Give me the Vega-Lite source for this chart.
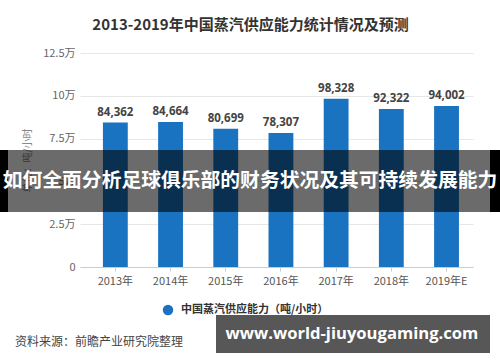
{
  "$schema": "https://vega.github.io/schema/vega-lite/v6.json",
  "autosize": {"type": "none"},
  "width": 393,
  "height": 214,
  "padding": {"left": 80, "top": 53, "right": 27, "bottom": 95},
  "background": "white",
  "title": {
    "text": "2013-2019年中国蒸汽供应能力统计情况及预测",
    "anchor": "middle",
    "frame": "group",
    "dx": -26,
    "offset": 14,
    "font": "Noto Sans CJK SC",
    "fontSize": 15,
    "fontWeight": "bold",
    "color": "#333333"
  },
  "config": {
    "view": {"stroke": null},
    "font": "Noto Sans CJK SC"
  },
  "resolve": {"scale": {"x": "independent"}, "axis": {"x": "independent"}},
  "layer": [
    {
      "data": {
        "values": [
          {"year": "2013年", "value": 84362, "series": "中国蒸汽供应能力（吨/小时）"},
          {"year": "2014年", "value": 84664, "series": "中国蒸汽供应能力（吨/小时）"},
          {"year": "2015年", "value": 80699, "series": "中国蒸汽供应能力（吨/小时）"},
          {"year": "2016年", "value": 78307, "series": "中国蒸汽供应能力（吨/小时）"},
          {"year": "2017年", "value": 98328, "series": "中国蒸汽供应能力（吨/小时）"},
          {"year": "2018年", "value": 92322, "series": "中国蒸汽供应能力（吨/小时）"},
          {"year": "2019年E", "value": 94002, "series": "中国蒸汽供应能力（吨/小时）"}
        ]
      },
      "encoding": {
        "x": {
          "field": "year",
          "type": "nominal",
          "sort": null,
          "scale": {"paddingInner": 0.55, "paddingOuter": 0.335, "align": 0.62},
          "axis": {
            "title": null,
            "labelAngle": 0,
            "labelFontSize": 11,
            "labelColor": "#555555",
            "labelPadding": 4,
            "ticks": true,
            "tickSize": 4,
            "tickColor": "#cccccc",
            "domainColor": "#cccccc",
            "grid": false
          }
        },
        "y": {
          "field": "value",
          "type": "quantitative",
          "scale": {"domain": [0, 125000], "nice": false},
          "axis": {
            "title": "单位：吨/小时",
            "titleFontSize": 10,
            "titleFontWeight": "normal",
            "titleColor": "#888888",
            "titlePadding": 10,
            "values": [0, 25000, 50000, 75000, 100000, 125000],
            "labelExpr": "datum.value == 0 ? '0' : (datum.value / 10000) + '万'",
            "labelFontSize": 11,
            "labelColor": "#666666",
            "labelPadding": 5,
            "ticks": false,
            "tickSize": 0,
            "domain": false,
            "gridColor": "#e6e6e6"
          }
        }
      },
      "layer": [
        {
          "mark": {"type": "bar", "color": "#1a73c0"},
          "encoding": {
            "color": {
              "field": "series",
              "type": "nominal",
              "scale": {"range": ["#1a73c0"]},
              "legend": {
                "title": null,
                "orient": "none",
                "legendX": 82,
                "legendY": 251,
                "symbolType": "circle",
                "symbolSize": 110,
                "labelOffset": 7,
                "labelFontSize": 11,
                "labelFontWeight": "bold",
                "labelColor": "#333333",
                "zindex": 0
              }
            }
          }
        },
        {
          "mark": {"type": "text", "baseline": "middle", "dy": -10, "fontSize": 11.5, "fontWeight": "bold", "color": "#444444", "font": "Open Sans"},
          "encoding": {
            "text": {"field": "value", "type": "quantitative", "format": ","}
          }
        }
      ]
    },
    {
      "data": {
        "values": [
          {"kind": "banner", "x0": 0.016, "x1": 0.98, "y0": 68341, "y1": 32126},
          {"kind": "edge", "x0": 0, "x1": 0.016, "y0": 68341, "y1": 32126},
          {"kind": "edge", "x0": 0.98, "x1": 1, "y0": 68341, "y1": 32126},
          {"kind": "url", "x0": 0.432, "x1": 0.98, "y0": -28037, "y1": -50234}
        ]
      },
      "layer": [
        {
          "transform": [{"filter": "datum.kind == 'banner'"}],
          "mark": {"type": "rect", "color": "#000000", "opacity": 0.58, "clip": false},
          "encoding": {
            "x": {"field": "x0", "type": "quantitative", "scale": {"domain": [0, 1], "range": [-80, 420], "nice": false, "zero": false}, "axis": null},
            "x2": {"field": "x1"},
            "y": {"field": "y0", "type": "quantitative"},
            "y2": {"field": "y1"}
          }
        },
        {
          "transform": [{"filter": "datum.kind == 'edge'"}],
          "mark": {"type": "rect", "color": "#000000", "opacity": 1, "clip": false},
          "encoding": {
            "x": {"field": "x0", "type": "quantitative", "axis": null},
            "x2": {"field": "x1"},
            "y": {"field": "y0", "type": "quantitative"},
            "y2": {"field": "y1"}
          }
        },
        {
          "transform": [{"filter": "datum.kind == 'url'"}],
          "mark": {"type": "rect", "color": "#575757", "opacity": 1, "clip": false},
          "encoding": {
            "x": {"field": "x0", "type": "quantitative", "axis": null},
            "x2": {"field": "x1"},
            "y": {"field": "y0", "type": "quantitative"},
            "y2": {"field": "y1"}
          }
        },
        {
          "data": {
            "values": [
              {"label": "如何全面分析足球俱乐部的财务状况及其可持续发展能力", "px": 0.5, "py": 50000}
            ]
          },
          "mark": {"type": "text", "clip": false, "baseline": "middle", "align": "center", "fontSize": 19.8, "fontWeight": "bold", "color": "#ffffff", "font": "Noto Sans CJK SC"},
          "encoding": {
            "x": {"field": "px", "type": "quantitative", "axis": null},
            "y": {"field": "py", "type": "quantitative"},
            "text": {"field": "label"}
          }
        },
        {
          "data": {
            "values": [
              {"label": "www.world-jiuyougaming.com", "px": 0.704, "py": -39136}
            ]
          },
          "mark": {"type": "text", "clip": false, "baseline": "middle", "align": "center", "fontSize": 16.6, "fontWeight": "bold", "color": "#ffffff", "font": "Open Sans"},
          "encoding": {
            "x": {"field": "px", "type": "quantitative", "axis": null},
            "y": {"field": "py", "type": "quantitative"},
            "text": {"field": "label"}
          }
        },
        {
          "data": {
            "values": [
              {"label": "资料来源：前瞻产业研究院整理", "px": 0.03, "py": -43808}
            ]
          },
          "mark": {"type": "text", "clip": false, "baseline": "middle", "align": "left", "fontSize": 12, "color": "#444444", "font": "Noto Sans CJK SC"},
          "encoding": {
            "x": {"field": "px", "type": "quantitative", "axis": null},
            "y": {"field": "py", "type": "quantitative"},
            "text": {"field": "label"}
          }
        }
      ]
    }
  ]
}
